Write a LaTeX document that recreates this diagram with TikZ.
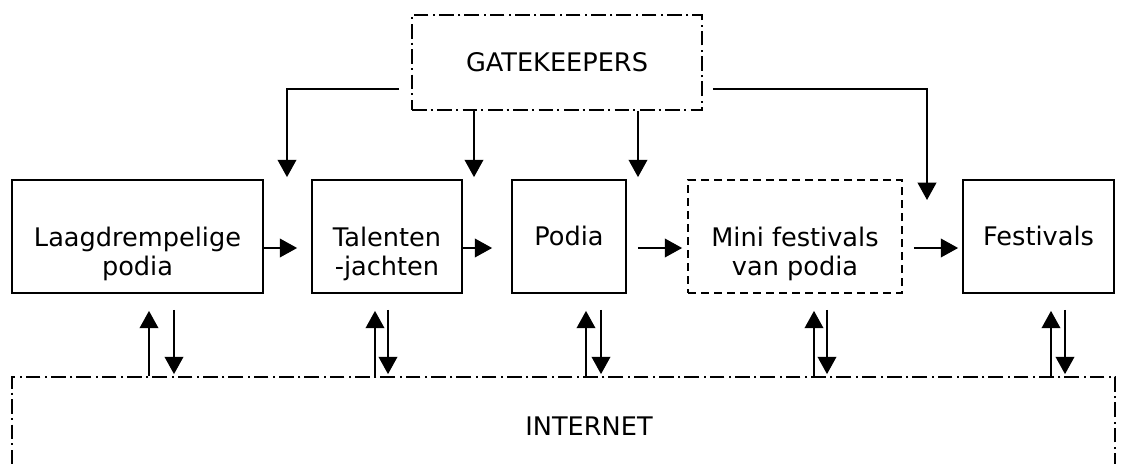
\documentclass[tikz,border=0pt]{standalone}
\usepackage{fontspec}
\setmainfont{DejaVu Sans}
\usetikzlibrary{arrows.meta,fit}
\begin{document}
\begin{tikzpicture}[x=0.75pt,y=-0.75pt,
  line width=1.3pt,
  box/.style={draw, inner sep=0pt},
  dashdot/.style={dash pattern=on 11pt off 3pt on 1.5pt off 3.5pt},
  dashbox/.style={dash pattern=on 6pt off 3.75pt},
  lbl/.style={anchor=base, inner sep=0pt, font=\fontsize{19.2}{22}\selectfont},
  arr/.style={-{Triangle[width=14pt,length=13pt]}}
]
\useasboundingbox (0,0) rectangle (1121,464);
\clip (0,0) rectangle (1121,464);

% boxes
\node[box, dashdot, fit={(412,15) (702,110)}] (gate) {};
\node[box, fit={(12,180) (263,293)}] (laag) {};
\node[box, fit={(312,180) (462,293)}] (talent) {};
\node[box, fit={(512,180) (626,293)}] (podia) {};
\node[box, dashbox, fit={(688,180) (902,293)}] (mini) {};
\node[box, fit={(963,180) (1114,293)}] (fest) {};
\node[box, dashdot, fit={(12,377) (1115,530)}] (inet) {};

% labels
\node[lbl] (gate-t) at (gate.center |- 0,71) {GATEKEEPERS};
\node[lbl] (laag-t1) at (laag.north |- 0,246) {Laagdrempelige};
\node[lbl] (laag-t2) at (laag.north |- 0,275) {podia};
\node[lbl] (talent-t1) at (talent.north |- 0,246) {Talenten};
\node[lbl] (talent-t2) at (talent.north |- 0,275) {-jachten};
\node[lbl] (podia-t) at (podia.north |- 0,245) {Podia};
\node[lbl] (mini-t1) at (mini.north |- 0,246) {Mini festivals};
\node[lbl] (mini-t2) at (mini.north |- 0,275) {van podia};
\node[lbl] (fest-t) at (fest.north |- 0,245) {Festivals};
\node[lbl] (inet-t) at (589,435) {INTERNET};

% flow along the row
\draw[arr, shorten >=10.5pt] (laag.east |- 0,248) -- (talent.west |- 0,248);
\draw[arr, shorten >=14.25pt] (talent.east |- 0,248) -- (podia.west |- 0,248);
\draw[arr, shorten <=8.25pt, shorten >=3.75pt] (podia.east |- 0,248) -- (mini.west |- 0,248);
\draw[arr, shorten <=8.25pt, shorten >=3pt] (mini.east |- 0,248) -- (fest.west |- 0,248);

% gatekeeper influence
\coordinate (gk-fest) at (927,200);
\draw[arr, shorten <=9pt, shorten >=1.5pt] (gate.west |- 0,89) -| (287,0 |- laag.north);
\draw[arr, shorten >=1.5pt] (474,0 |- gate.south) -- (474,0 |- talent.north);
\draw[arr, shorten >=1.5pt] (638,0 |- gate.south) -- (638,0 |- podia.north);
\draw[arr, shorten <=7.5pt] (gate.east |- 0,89) -| (gk-fest);

% exchange with the internet
\foreach \b/\xu/\xd in {laag/149/174, talent/375/388, podia/586/601, mini/814/827, fest/1051/1065} {
  \draw[arr, shorten >=12.75pt] (\xu,0 |- inet.north) -- (\xu,0 |- \b.south);
  \draw[arr, shorten <=12pt, shorten >=1.5pt] (\xd,0 |- \b.south) -- (\xd,0 |- inet.north);
}
\end{tikzpicture}
\end{document}
